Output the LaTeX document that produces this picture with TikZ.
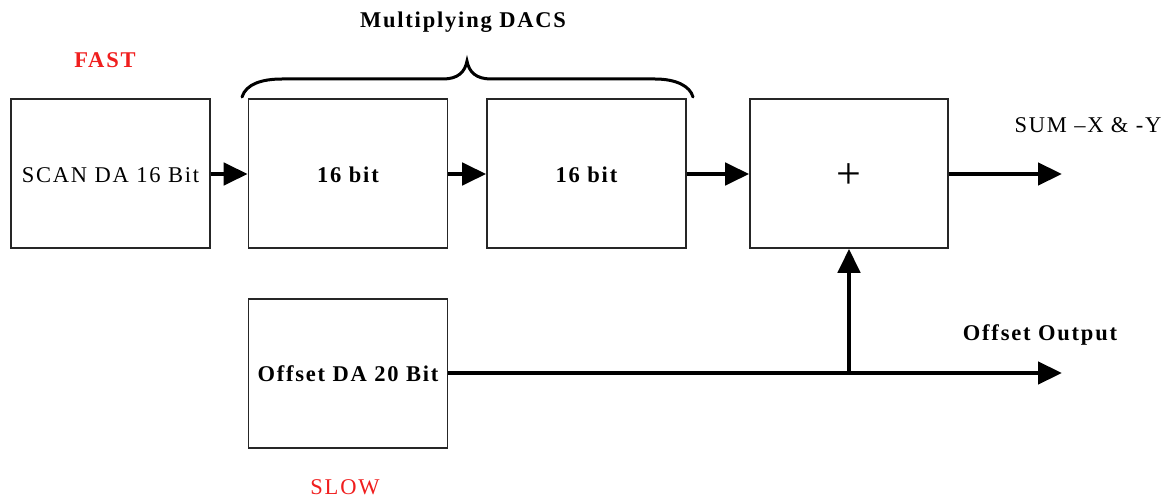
\documentclass[tikz,border=0pt]{standalone}
\usepackage{fontspec}
\setmainfont{Liberation Serif}[LetterSpace=8]
\usetikzlibrary{arrows.meta}
\definecolor{labred}{RGB}{240,30,30}
\begin{document}
\begin{tikzpicture}[x=1pt,y=-1pt,
  blockbox/.style={draw=black!85,line width=1.6pt,minimum width=199pt,minimum height=149pt,inner sep=0pt,
    text height=18pt,text depth=0pt,font=\fontsize{22.5}{26}\selectfont},
  sig/.style={line width=4.5pt,-{Triangle[length=24pt,width=22pt]}},
  lbl/.style={font=\fontsize{22.5}{26}\selectfont},
  blbl/.style={font=\fontsize{22.5}{26}\selectfont\bfseries}]
\useasboundingbox (0,0) rectangle (1171,497);

% blocks
\node[blockbox] (scan) at (110.5,173.5) {SCAN DA 16 Bit};
\node[blockbox] (mdac1) at (348,173.5) {\bfseries 16 bit};
\node[blockbox] (mdac2) at (586.5,173.5) {\bfseries 16 bit};
\node[blockbox,minimum width=198pt,text height=30pt] (sum) at (849,173.5) {\fontsize{44}{44}\selectfont +};
\node[blockbox,text height=16pt] (offset) at (348,373.5) {\bfseries Offset DA 20 Bit};

% free ends of the outputs
\coordinate (sumout) at (1062,174);
\coordinate (offout) at (1062,373);
\coordinate (tap) at (849,373);

% signal flow
\draw[sig] (scan.east |- 0,174) -- (mdac1.west |- 0,174);
\draw[sig] (mdac1.east |- 0,174) -- (mdac2.west |- 0,174);
\draw[sig] (mdac2.east |- 0,174) -- (sum.west |- 0,174);
\draw[sig] (sum.east |- 0,174) -- (sumout);
\draw[line width=4.5pt] (offset.east |- 0,373) -- (tap);
\draw[sig] (tap) -- (offout);
\draw[sig] (tap) -- (sum.south);

% brace over the multiplying DACs
\draw[line width=3pt,line cap=round]
  (242,97) .. controls (246,84) and (262,79) .. (282,79)
  -- (443,79) .. controls (458,79) and (465,72) .. (467,61)
  .. controls (469,72) and (476,79) .. (491,79)
  -- (655,79) .. controls (676,79) and (690,86) .. (693,97);

% labels
\node[blbl] (mlabel) at (463,22) {Multiplying DACS};
\node[blbl,text=labred] (fast) at (105,60) {FAST};
\node[lbl,text=labred] (slow) at (345,487) {SLOW};
\node[lbl] (sumlabel) at (1088,125) {SUM –X \& -Y};
\node[blbl] (offlabel) at (1040,335) {Offset Output};
\end{tikzpicture}
\end{document}
